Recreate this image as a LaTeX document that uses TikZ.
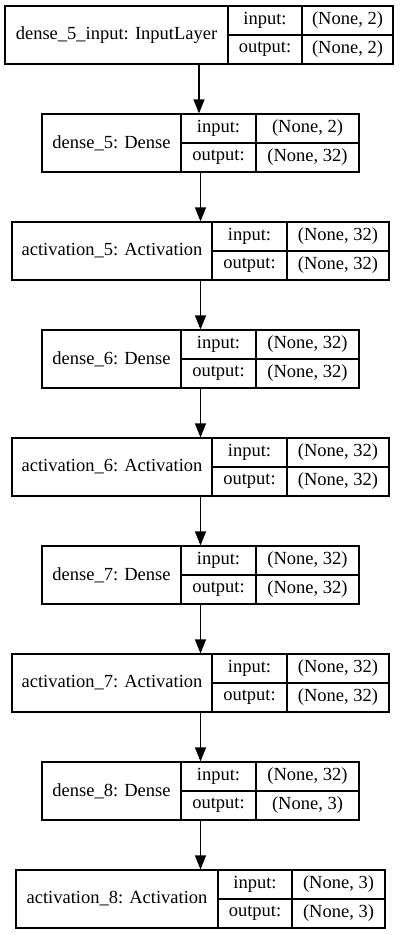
\documentclass[tikz,border=0pt]{standalone}
\usepackage{fontspec}
\setmainfont{Liberation Serif}
\usetikzlibrary{arrows.meta}

\begin{document}
\begin{tikzpicture}[x=1pt,y=-1pt,>={Triangle[length=14pt,width=11pt]},line width=1.2pt,
outer/.style={rectangle, draw, inner sep=0pt, minimum height=58pt},
title/.style={inner sep=0pt, font=\fontsize{18.5}{22}\selectfont},
cell/.style={rectangle, draw, inner sep=0pt, minimum height=29pt, font=\fontsize{18.5}{22}\selectfont}]

\useasboundingbox (0,0) rectangle (401,935);

% input layer
\draw (199,35) node[outer, minimum width=388pt] (I5) {};
\draw (116.5,35) node[title] (I5n) {dense\_5\_input: InputLayer};
\draw (265,20.5) node[cell, minimum width=74pt] (I5i) {input:};
\draw (265,49.5) node[cell, minimum width=74pt] (I5o) {output:};
\draw (347.5,20.5) node[cell, minimum width=91pt] (I5iv) {(None, 2)};
\draw (347.5,49.5) node[cell, minimum width=91pt] (I5ov) {(None, 2)};

\draw (200.5,143) node[outer, minimum width=317pt] (D5) {};
\draw (111.5,143) node[title] (D5n) {dense\_5: Dense};
\draw (218.5,128.5) node[cell, minimum width=75pt] (D5i) {input:};
\draw (218.5,157.5) node[cell, minimum width=75pt] (D5o) {output:};
\draw (307.5,128.5) node[cell, minimum width=103pt] (D5iv) {(None, 2)};
\draw (307.5,157.5) node[cell, minimum width=103pt] (D5ov) {(None, 32)};

\draw (200.5,251) node[outer, minimum width=377pt] (A5) {};
\draw (112,251) node[title] (A5n) {activation\_5: Activation};
\draw (249.5,236.5) node[cell, minimum width=75pt] (A5i) {input:};
\draw (249.5,265.5) node[cell, minimum width=75pt] (A5o) {output:};
\draw (338,236.5) node[cell, minimum width=102pt] (A5iv) {(None, 32)};
\draw (338,265.5) node[cell, minimum width=102pt] (A5ov) {(None, 32)};

\draw (200.5,359) node[outer, minimum width=317pt] (D6) {};
\draw (111.5,359) node[title] (D6n) {dense\_6: Dense};
\draw (218.5,344.5) node[cell, minimum width=75pt] (D6i) {input:};
\draw (218.5,373.5) node[cell, minimum width=75pt] (D6o) {output:};
\draw (307.5,344.5) node[cell, minimum width=103pt] (D6iv) {(None, 32)};
\draw (307.5,373.5) node[cell, minimum width=103pt] (D6ov) {(None, 32)};

\draw (200.5,467) node[outer, minimum width=377pt] (A6) {};
\draw (112,467) node[title] (A6n) {activation\_6: Activation};
\draw (249.5,452.5) node[cell, minimum width=75pt] (A6i) {input:};
\draw (249.5,481.5) node[cell, minimum width=75pt] (A6o) {output:};
\draw (338,452.5) node[cell, minimum width=102pt] (A6iv) {(None, 32)};
\draw (338,481.5) node[cell, minimum width=102pt] (A6ov) {(None, 32)};

\draw (200.5,575) node[outer, minimum width=317pt] (D7) {};
\draw (111.5,575) node[title] (D7n) {dense\_7: Dense};
\draw (218.5,560.5) node[cell, minimum width=75pt] (D7i) {input:};
\draw (218.5,589.5) node[cell, minimum width=75pt] (D7o) {output:};
\draw (307.5,560.5) node[cell, minimum width=103pt] (D7iv) {(None, 32)};
\draw (307.5,589.5) node[cell, minimum width=103pt] (D7ov) {(None, 32)};

\draw (200.5,683) node[outer, minimum width=377pt] (A7) {};
\draw (112,683) node[title] (A7n) {activation\_7: Activation};
\draw (249.5,668.5) node[cell, minimum width=75pt] (A7i) {input:};
\draw (249.5,697.5) node[cell, minimum width=75pt] (A7o) {output:};
\draw (338,668.5) node[cell, minimum width=102pt] (A7iv) {(None, 32)};
\draw (338,697.5) node[cell, minimum width=102pt] (A7ov) {(None, 32)};

\draw (200.5,791) node[outer, minimum width=317pt] (D8) {};
\draw (111.5,791) node[title] (D8n) {dense\_8: Dense};
\draw (218.5,776.5) node[cell, minimum width=75pt] (D8i) {input:};
\draw (218.5,805.5) node[cell, minimum width=75pt] (D8o) {output:};
\draw (307.5,776.5) node[cell, minimum width=103pt] (D8iv) {(None, 32)};
\draw (307.5,805.5) node[cell, minimum width=103pt] (D8ov) {(None, 3)};

\draw (200.5,899) node[outer, minimum width=369pt] (A8) {};
\draw (117,899) node[title] (A8n) {activation\_8: Activation};
\draw (255,884.5) node[cell, minimum width=74pt] (A8i) {input:};
\draw (255,913.5) node[cell, minimum width=74pt] (A8o) {output:};
\draw (338.5,884.5) node[cell, minimum width=93pt] (A8iv) {(None, 3)};
\draw (338.5,913.5) node[cell, minimum width=93pt] (A8ov) {(None, 3)};

% connections
\draw[->] (I5.south) -- (I5.south |- D5.north);
\draw[->] (D5.south) -- (D5.south |- A5.north);
\draw[->] (A5.south) -- (A5.south |- D6.north);
\draw[->] (D6.south) -- (D6.south |- A6.north);
\draw[->] (A6.south) -- (A6.south |- D7.north);
\draw[->] (D7.south) -- (D7.south |- A7.north);
\draw[->] (A7.south) -- (A7.south |- D8.north);
\draw[->] (D8.south) -- (D8.south |- A8.north);

\end{tikzpicture}
\end{document}
